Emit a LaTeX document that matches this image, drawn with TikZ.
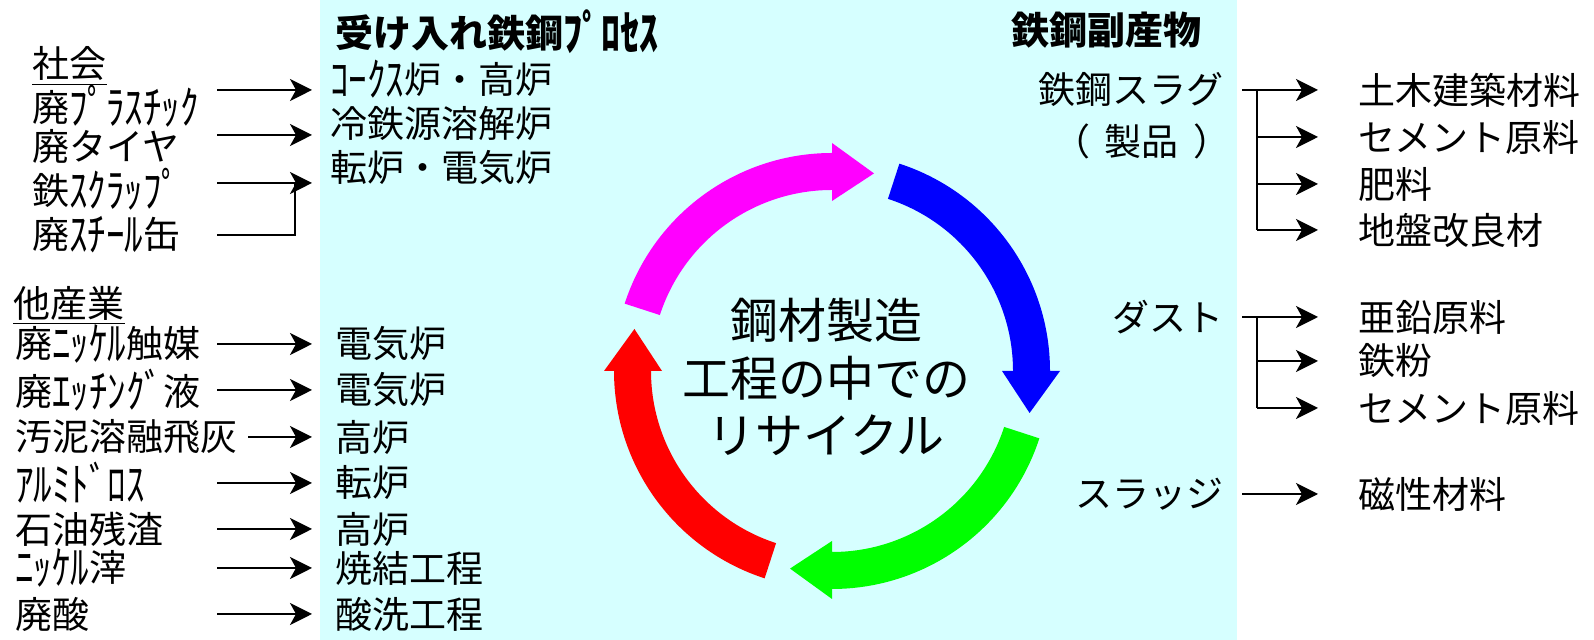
\documentclass[tikz,border=0pt]{standalone}
\usepackage{graphicx}
\usepackage{fontspec}
\setmainfont{Noto Sans CJK JP}
\usetikzlibrary{arrows.meta}
\definecolor{bgcyan}{RGB}{214,255,255}
\definecolor{rmag}{RGB}{255,0,255}
\definecolor{rblu}{RGB}{0,0,255}
\definecolor{rgrn}{RGB}{0,255,0}
\definecolor{rred}{RGB}{255,0,0}
\newcommand\hwk[1]{\raisebox{-0.08em}{\scalebox{1}[1.25]{#1}}}
\begin{document}
\begin{tikzpicture}[x=0.5pt,y=0.5pt,
  txt/.style={inner sep=0pt,font=\fontsize{18.5}{22}\selectfont},
  txtl/.style={txt,anchor=west},
  txtr/.style={txt,anchor=east},
  ttl/.style={inner sep=0pt,anchor=west,font=\fontsize{19}{22}\selectfont\bfseries},
  ctr/.style={inner sep=0pt,align=center,font=\fontsize{24}{28.75}\selectfont},
  arr/.style={line width=1pt,-{Stealth[length=11pt,width=11pt,inset=3pt]}},
  ln/.style={line width=1pt},
  ul/.style={line width=0.8pt}]
\useasboundingbox (0,0) rectangle (1594,640);
\fill[bgcyan] (320,0) rectangle (1237,640);

% ring of arrows
\begin{scope}[shift={(832,269)}]
\foreach \c/\t in {rmag/162, rblu/72, rgrn/-18, rred/-108}{
  \fill[\c] (\t:218) arc[start angle=\t, end angle=\t-72, radius=218]
    -- (\t-72:228) -- (\t-84:202) -- (\t-72:170) -- (\t-72:181)
    arc[start angle=\t-72, end angle=\t, radius=181] -- cycle;
}
\end{scope}
\node[ctr] (mid) at (826,263) {鋼材製造\\工程の中での\\リサイクル};

% titles
\node[ttl] (t1) at (335,608) {受け入れ鉄鋼\hwk{ﾌﾟﾛｾｽ}};
\node[ttl] (t2) at (1011,610) {鉄鋼副産物};

% helper x positions
\coordinate (sx) at (217,0);
\coordinate (sx3) at (248,0);
\coordinate (ex) at (312,0);

% society group
\node[txtl] (soc) at (32,576) {社会};
\draw[ul] ([yshift=-1.5pt]soc.south west) -- ([yshift=-1.5pt]soc.south east);
\node[txtl] (l1) at (32,534) {廃\hwk{ﾌﾟﾗｽﾁｯｸ}};
\node[txtl] (l2) at (32,493) {廃タイヤ};
\node[txtl] (l3) at (32,451) {鉄\hwk{ｽｸﾗｯﾌﾟ}};
\node[txtl] (l4) at (32,405) {廃\hwk{ｽﾁｰﾙ}缶};
\node[txtl] (p1) at (330,561) {\hwk{ｺｰｸｽ}炉・高炉};
\node[txtl] (p2) at (330,517) {冷鉄源溶解炉};
\node[txtl] (p3) at (330,472) {転炉・電気炉};
\coordinate (ta1) at (217,550); \coordinate (te1) at (312,550);
\coordinate (ta2) at (217,505); \coordinate (te2) at (312,505);
\coordinate (ta3) at (217,457); \coordinate (te3) at (312,457);
\coordinate (j3) at (295,457);
\draw[arr] (ta1) -- (te1);
\draw[arr] (ta2) -- (te2);
\draw[arr] (ta3) -- (te3);
\draw[ln] (l4.east -| sx) -| (j3);

% other industries group
\node[txtl] (ind) at (13,337) {他産業};
\draw[ul] ([yshift=-1.5pt]ind.south west) -- ([yshift=-1.5pt]ind.south east);
\node[txtl] (m1) at (15,296) {廃\hwk{ﾆｯｹﾙ}触媒};
\node[txtl] (m2) at (15,250) {廃\hwk{ｴｯﾁﾝｸﾞ}液};
\node[txtl] (m3) at (15,203) {汚泥溶融飛灰};
\node[txtl] (m4) at (15,157) {\hwk{ｱﾙﾐﾄﾞﾛｽ}};
\node[txtl] (m5) at (15,111) {石油残渣};
\node[txtl] (m6) at (15,72) {\hwk{ﾆｯｹﾙ}滓};
\node[txtl] (m7) at (15,26) {廃酸};
\node[txtl] (q1) at (335,296) {電気炉};
\node[txtl] (q2) at (335,250) {電気炉};
\node[txtl] (q3) at (335,203) {高炉};
\node[txtl] (q4) at (335,157) {転炉};
\node[txtl] (q5) at (335,111) {高炉};
\node[txtl] (q6) at (335,72) {焼結工程};
\node[txtl] (q7) at (335,26) {酸洗工程};
\foreach \i in {1,2,4,5,6,7}{
  \draw[arr] (m\i.west -| sx) -- (q\i.west -| ex);
}
\draw[arr] (m3.west -| sx3) -- (q3.west -| ex);

% by-products
\coordinate (bx) at (1257,0);
\coordinate (tx) at (1318,0);
\node[txtr] (s1) at (1224,550) {鉄鋼スラグ};
\node[txt] (s1b) at (1142,499) {（\hspace{0.4em}製品\hspace{0.4em}）};
\node[txtl] (r1) at (1358,550) {土木建築材料};
\node[txtl] (r2) at (1358,503) {セメント原料};
\node[txtl] (r3) at (1358,456) {肥料};
\node[txtl] (r4) at (1358,410) {地盤改良材};
\draw[ln] ([xshift=9pt]s1.east) -- (r1.west -| bx) -- (r4.west -| bx);
\foreach \i in {1,2,3,4}{
  \draw[arr] (r\i.west -| bx) -- (r\i.west -| tx);
}

\node[txtr] (d1) at (1224,323) {ダスト};
\node[txtl] (r5) at (1358,323) {亜鉛原料};
\node[txtl] (r6) at (1358,279) {鉄粉};
\node[txtl] (r7) at (1358,232) {セメント原料};
\draw[ln] ([xshift=9pt]d1.east) -- (r5.west -| bx) -- (r7.west -| bx);
\foreach \i in {5,6,7}{
  \draw[arr] (r\i.west -| bx) -- (r\i.west -| tx);
}

\node[txtr] (sl) at (1224,146) {スラッジ};
\node[txtl] (r8) at (1358,146) {磁性材料};
\draw[arr] ([xshift=9pt]sl.east) -- (r8.west -| tx);
\end{tikzpicture}
\end{document}
